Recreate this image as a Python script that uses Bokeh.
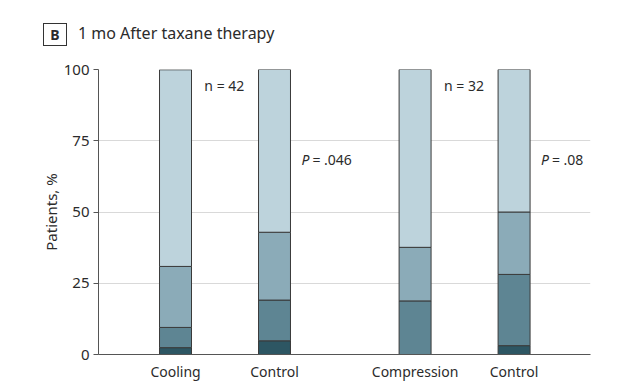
from bokeh.plotting import figure
from bokeh.layouts import column
from bokeh.models import ColumnDataSource, Range1d, FixedTicker, Label, Div
from bokeh.embed import file_html
from bokeh.resources import INLINE

# ---- data ----
categories = ["Cooling", "Control", "Compression", "Control"]
groups = [0, 0, 1, 1]
seg1 = [2.4, 4.8, 0.0, 3.1]      # darkest
seg2 = [7.1, 14.3, 18.8, 25.0]
seg3 = [21.4, 23.8, 18.8, 21.9]
seg4 = [69.0, 57.1, 62.5, 50.0]  # lightest
n_labels = ["n = 42", "n = 32"]
p_values = ["= .046", "= .08"]
y_ticks = [0, 25, 50, 75, 100]
title_text = "1 mo After taxane therapy"
panel_letter = "B"

FONT = "Noto Sans"
TXT = "#2b2b2b"
colors = ["#2d5663", "#5e8593", "#8babb8", "#bdd3dc"]

W = 608
TOP_H = 50

# ---- title strip (HTML text) ----
title_html = (
    f'<div style="position:relative;width:{W}px;height:{TOP_H}px;'
    f'font-family:\'{FONT}\';color:{TXT};">'
    f'<span style="position:absolute;left:43px;top:23px;box-sizing:border-box;'
    f'width:24px;height:23px;border:1px solid #333;font-weight:bold;'
    f'font-size:14px;text-align:center;line-height:21px;">{panel_letter}</span>'
    f'<span style="position:absolute;left:78px;top:22px;font-size:16px;'
    f'line-height:22px;white-space:nowrap;">{title_text}</span></div>'
)
t = Div(text=title_html, width=W, height=TOP_H, margin=0)

# ---- main chart ----
GROUP_GAP = 0.42
OFFSET = 0.778
BAR_W = 0.323
xpos = [OFFSET + i + g * GROUP_GAP for i, g in enumerate(groups)]

src = ColumnDataSource(dict(x=xpos, s1=seg1, s2=seg2, s3=seg3, s4=seg4))

p = figure(width=W, height=338, output_backend="svg", toolbar_location=None,
           x_range=Range1d(0, 4.97), y_range=Range1d(0, 100),
           min_border_left=98, min_border_right=18, min_border_top=19,
           min_border_bottom=34)
p.outline_line_color = None
p.background_fill_color = "white"
p.border_fill_color = "white"

p.vbar_stack(["s1", "s2", "s3", "s4"], x="x", width=BAR_W, source=src,
             fill_color=colors, line_color="#3a3a3a", line_width=1)

p.xgrid.grid_line_color = None
p.ygrid.grid_line_color = "#d9d9d9"
p.ygrid.grid_line_width = 1.2
p.yaxis.ticker = FixedTicker(ticks=y_ticks)
p.yaxis.axis_label = "Patients, %"
p.yaxis.axis_label_text_font = FONT
p.yaxis.axis_label_text_font_size = "15px"
p.yaxis.axis_label_text_font_style = "normal"
p.yaxis.axis_label_text_color = TXT
p.yaxis.axis_label_standoff = 0
p.yaxis.major_label_text_font = FONT
p.yaxis.major_label_text_font_size = "15px"
p.yaxis.major_label_text_color = TXT
p.yaxis.major_tick_out = 5
p.yaxis.major_tick_in = 0
p.yaxis.minor_tick_line_color = None
p.yaxis.axis_line_color = "#555555"
p.yaxis.major_tick_line_color = "#555555"
p.yaxis.major_label_standoff = 4

p.xaxis.ticker = FixedTicker(ticks=xpos)
p.xaxis.major_label_overrides = {x: c for x, c in zip(xpos, categories)}
p.xaxis.major_label_text_font = FONT
p.xaxis.major_label_text_font_size = "14px"
p.xaxis.major_label_text_color = TXT
p.xaxis.major_tick_line_color = None
p.xaxis.minor_tick_line_color = None
p.xaxis.axis_line_color = "#555555"
p.xaxis.major_label_standoff = 1

for gi in range(2):
    first = groups.index(gi)
    bx0 = xpos[first] + BAR_W / 2 + 0.13
    bx1 = xpos[first + 1] + BAR_W / 2 + 0.11
    p.add_layout(Label(x=bx0, y=94.5, text=n_labels[gi], text_font=FONT,
                       text_font_size="14px", text_color=TXT,
                       text_baseline="middle"))
    p.add_layout(Label(x=bx1, y=68.5, text="P", text_font=FONT,
                       text_font_size="14px", text_color=TXT,
                       text_font_style="italic", text_baseline="middle"))
    p.add_layout(Label(x=bx1, y=68.5, x_offset=11, text=p_values[gi],
                       text_font=FONT, text_font_size="14px", text_color=TXT,
                       text_baseline="middle"))

layout = column(t, p, spacing=0)
open("out.html", "w").write(file_html(layout, INLINE))
